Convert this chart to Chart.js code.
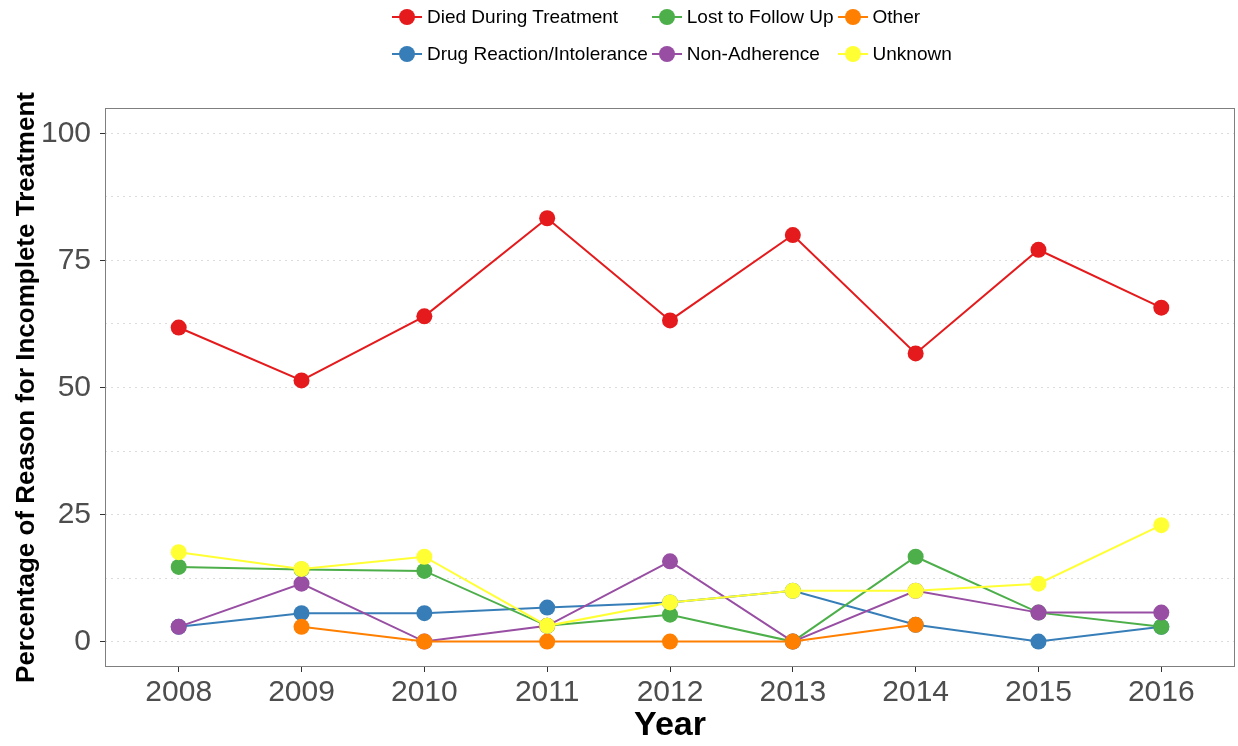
<!DOCTYPE html>
<html>
<head>
<meta charset="utf-8">
<script src="https://cdn.jsdelivr.net/npm/chart.js@4.4.1/dist/chart.umd.min.js"></script>
<style>
  html, body { margin: 0; padding: 0; background: #fff; }
  #wrap { position: relative; width: 1238px; height: 746px; font-family: "Liberation Sans", Arial, sans-serif; }
  #legend {
    position: absolute; top: 0; left: 392px;
    display: grid; grid-auto-flow: column;
    grid-template-rows: 34px 34px; row-gap: 3px; column-gap: 4px;
  }
  .item { display: flex; align-items: center; font-size: 19px; color: #000; white-space: nowrap; }
  .key { position: relative; width: 30px; height: 18px; margin-right: 5px; }
  .key .ln { position: absolute; left: 0; right: 0; top: 8px; height: 2px; }
  .key .dot { position: absolute; left: 7px; top: 1px; width: 16px; height: 16px; border-radius: 50%; }
</style>
</head>
<body>
<div id="wrap">
  <canvas id="chart" width="1238" height="746"></canvas>
  <div id="legend"></div>
</div>
<script>
// data
const years = [2008, 2009, 2010, 2011, 2012, 2013, 2014, 2015, 2016];
const seriesNames = ['Died During Treatment', 'Drug Reaction/Intolerance', 'Lost to Follow Up', 'Non-Adherence', 'Other', 'Unknown'];
const diedDuringTreatment = [61.8, 51.4, 64.0, 83.3, 63.2, 80.0, 56.7, 77.1, 65.7];
const drugReaction = [2.9, 5.6, 5.6, 6.7, 7.7, 10.0, 3.3, 0, 2.9];
const lostToFollowUp = [14.7, 14.2, 13.9, 3.1, 5.3, 0, 16.7, 5.7, 2.9];
const nonAdherence = [2.9, 11.4, 0, 3.1, 15.8, 0, 10.0, 5.7, 5.7];
const other = [null, 2.9, 0, 0, 0, 0, 3.3, null, null];
const unknown = [17.6, 14.3, 16.7, 3.1, 7.7, 10.0, 10.0, 11.4, 22.9];
const yTickValues = [0, 25, 50, 75, 100];
const yMinorValues = [12.5, 37.5, 62.5, 87.5];
const colors = ['#E41A1C', '#377EB8', '#4DAF4A', '#984EA3', '#FF7F00', '#FFFF33'];

const allSeries = [diedDuringTreatment, drugReaction, lostToFollowUp, nonAdherence, other, unknown];

const datasets = allSeries.map((vals, i) => ({
    label: seriesNames[i],
    data: years.map((yr, j) => ({ x: yr, y: vals[j] })),
    borderColor: colors[i],
    backgroundColor: colors[i],
    borderWidth: 2,
    pointRadius: 8,
    pointBorderWidth: 0,
    pointHoverRadius: 8,
    tension: 0,
    spanGaps: false,
    order: allSeries.length - 1 - i // later series drawn on top, like ggplot
}));

// panel border drawn on top of the lines
const panelBorder = {
    id: 'panelBorder',
    afterDatasetsDraw(chart) {
        const a = chart.chartArea;
        const ctx = chart.ctx;
        ctx.save();
        ctx.strokeStyle = '#7f7f7f';
        ctx.lineWidth = 1;
        ctx.strokeRect(Math.round(a.left) + 0.5, Math.round(a.top) + 0.5,
            Math.round(a.right - a.left) - 1, Math.round(a.bottom - a.top) - 1);
        ctx.restore();
    }
};

const tickFont = { family: '"Liberation Sans", Arial, sans-serif', size: 30 };

new Chart(document.getElementById('chart').getContext('2d'), {
    type: 'line',
    data: { datasets },
    plugins: [panelBorder],
    options: {
        responsive: false,
        animation: false,
        devicePixelRatio: 1,
        events: [],
        layout: { autoPadding: false, padding: { top: 108, right: 3, left: 0, bottom: 0 } },
        plugins: { legend: { display: false }, tooltip: { enabled: false } },
        scales: {
            x: {
                type: 'linear',
                min: 2007.4,
                max: 2016.6,
                afterBuildTicks: s => { s.ticks = years.map(v => ({ value: v })); },
                afterFit: s => { s.height = 79; s.paddingLeft = 0; s.paddingRight = 0; },
                border: { display: false },
                grid: { drawOnChartArea: false, drawTicks: true, tickLength: 5, tickColor: '#333333', tickWidth: 1 },
                ticks: { font: tickFont, color: '#4d4d4d', padding: 3, maxRotation: 0, callback: v => String(v) },
                title: {
                    display: true, text: 'Year', color: '#000',
                    font: { family: '"Liberation Sans", Arial, sans-serif', size: 34, weight: 'bold' },
                    padding: { top: 0, bottom: 0 }
                }
            },
            y: {
                min: -5,
                max: 105,
                afterBuildTicks: s => {
                    s.ticks = yTickValues.concat(yMinorValues).sort((a, b) => a - b).map(v => ({ value: v }));
                },
                afterFit: s => { s.width = 105; s.paddingTop = 0; s.paddingBottom = 0; },
                border: { display: false, dash: [2, 4] },
                grid: {
                    color: '#dcdcdc',
                    lineWidth: 1,
                    tickLength: 5,
                    tickBorderDash: [],
                    tickColor: c => (yTickValues.includes(c.tick.value) ? '#333333' : 'rgba(0,0,0,0)')
                },
                ticks: {
                    font: tickFont, color: '#4d4d4d', padding: 9,
                    callback: v => (yTickValues.includes(v) ? String(v) : '')
                },
                title: {
                    display: true, text: 'Percentage of Reason for Incomplete Treatment', color: '#000',
                    font: { family: '"Liberation Sans", Arial, sans-serif', size: 26, weight: 'bold' },
                    padding: { top: 11, bottom: 0 }
                }
            }
        }
    }
});

// legend laid out column-wise in two rows, as in the reference
const legend = document.getElementById('legend');
seriesNames.forEach((name, i) => {
    const item = document.createElement('div');
    item.className = 'item';
    item.innerHTML = '<span class="key"><span class="ln" style="background:' + colors[i] +
        '"></span><span class="dot" style="background:' + colors[i] + '"></span></span><span>' + name + '</span>';
    legend.appendChild(item);
});
</script>
</body>
</html>
